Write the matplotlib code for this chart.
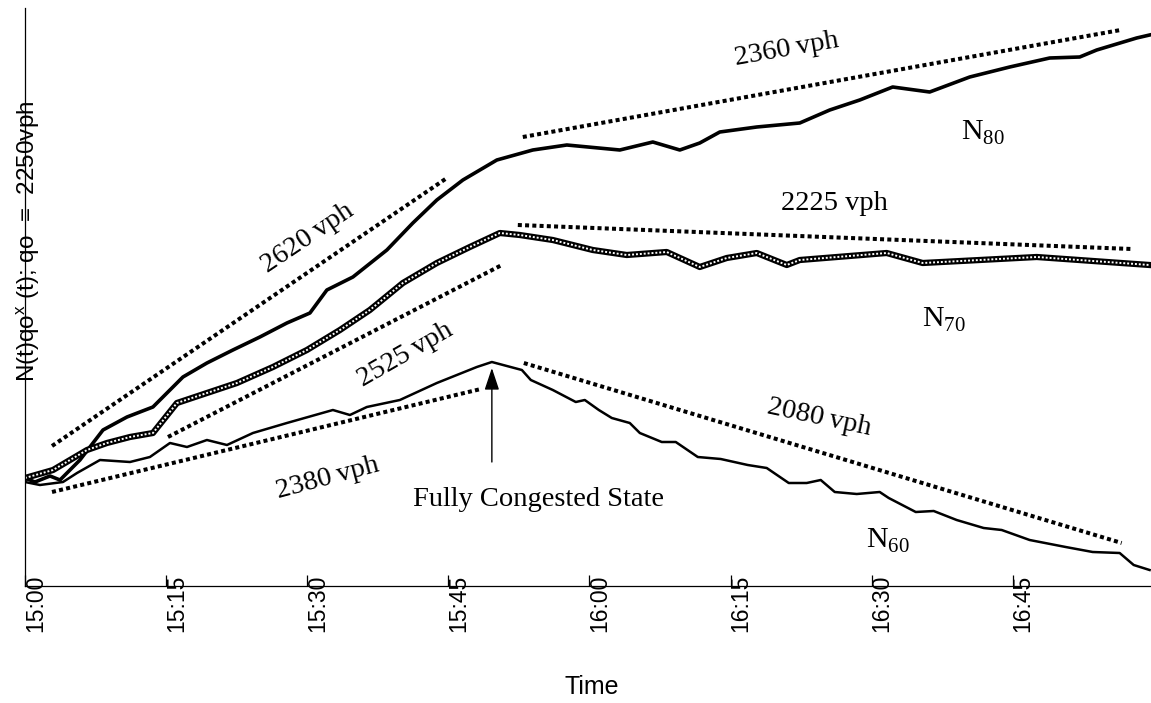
import matplotlib
matplotlib.use("Agg")
import matplotlib.pyplot as plt
from matplotlib.transforms import ScaledTranslation

# minutes after 15:00 / cumulative count N(t) - qo*t (veh)
n80_t = [0, 1.06, 2.66, 3.72, 4.78, 5.84, 8.29, 10.84, 13.60, 16.79, 19.34, 22.10, 24.97,
         27.84, 30.29, 32.09, 34.86, 38.47, 41.23, 43.78, 46.55, 50.16, 53.98, 57.60,
         63.23, 66.74, 69.61, 71.73, 73.86, 77.79, 82.36, 85.55, 88.74, 92.24, 96.17,
         100.43, 104.68, 108.93, 112.12, 113.93, 118.17, 119.55]
n80_v = [105, 101, 107, 103, 113, 123, 153, 166, 176, 206, 220, 233, 246,
         260, 270, 293, 306, 333, 360, 383, 403, 423, 433, 438,
         433, 441, 433, 440, 451, 456, 460, 473, 483, 496, 491,
         506, 516, 525, 526, 533, 545, 548]

n70_t = [0, 2.98, 6.59, 8.71, 11.16, 13.60, 16.15, 19.34, 22.53, 26.36, 29.97, 33.48,
         36.66, 40.17, 43.78, 47.29, 50.48, 52.60, 56.11, 60.36, 63.97, 68.22, 71.73,
         74.60, 77.79, 80.98, 82.36, 91.60, 95.43, 107.55, 119.55]
n70_v = [105, 113, 133, 140, 146, 150, 180, 190, 200, 216, 233, 253,
         273, 300, 320, 336, 350, 348, 343, 333, 328, 331, 316,
         325, 330, 318, 323, 330, 320, 326, 318]

n60_t = [0, 1.59, 4.04, 5.53, 7.97, 11.16, 13.28, 15.41, 17.22, 19.34, 21.47, 24.23,
         27.84, 32.73, 34.54, 36.34, 39.85, 43.78, 48.03, 49.63, 52.82, 53.77, 56.11,
         58.55, 59.51, 61.00, 62.38, 64.29, 65.36, 67.69, 69.18, 71.52, 73.96, 76.83,
         78.85, 81.19, 83.10, 84.59, 86.08, 88.42, 90.86, 91.82, 94.69, 96.60, 99.04,
         101.91, 103.83, 106.80, 110.63, 113.50, 116.37, 117.86, 119.55]
n60_v = [101, 98, 101, 110, 123, 121, 126, 140, 136, 143, 138, 150,
         160, 173, 168, 176, 183, 200, 216, 221, 213, 203, 193,
         181, 183, 173, 165, 160, 150, 141, 141, 126, 124, 118,
         115, 100, 100, 103, 91, 89, 91, 85, 71, 72, 63,
         55, 53, 43, 36, 31, 30, 18, 13]

# fitted rate lines: (t0, t1), (v0, v1)
rate_lines = [
    ((2.87, 44.85), (137, 405)),    # 2620
    ((15.20, 50.69), (146, 318)),   # 2525
    ((2.87, 48.46), (91, 194)),     # 2380
    ((52.92, 116.47), (446, 553)),  # 2360
    ((52.39, 117.64), (358, 334)),  # 2225
    ((53.03, 116.58), (220, 40)),   # 2080
]
# label placement: text, x, y, rotation
rate_labels = [
    ("2620\u2009vph", 30.1, 345, 34),
    ("2525\u2009vph", 40.4, 228, 30),
    ("2380\u2009vph", 32.2, 105, 15),
    ("2360\u2009vph", 81.0, 533, 10),
    ("2225 vph", 86.0, 380, 0),
    ("2080\u2009vph", 84.4, 165, -12),
]
curve_labels = [("N$_{\\mathrm{80}}$", 101.8, 450),
                ("N$_{\\mathrm{70}}$", 97.7, 263),
                ("N$_{\\mathrm{60}}$", 91.7, 42)]

tick_min = [0, 15, 30, 45, 60, 75, 90, 105]
tick_lab = ["15:00", "15:15", "15:30", "15:45", "16:00", "16:15", "16:30", "16:45"]

plt.rcParams['mathtext.fontset'] = 'custom'
plt.rcParams['mathtext.rm'] = 'Liberation Serif'
plt.rcParams['mathtext.sf'] = 'Liberation Sans'
serif = ['Liberation Serif', 'DejaVu Serif']
sans = ['Liberation Sans', 'DejaVu Sans']

fig = plt.figure(figsize=(11.51, 7.03), dpi=100)
ax = fig.add_axes([25 / 1151, 117.5 / 703, 1126 / 1151, 577.5 / 703])

ax.plot(n80_t, n80_v, color='black', lw=2.6, solid_joinstyle='round')
ax.plot(n70_t, n70_v, color='black', lw=4.5, solid_joinstyle='round')
ax.plot(n70_t, n70_v, color='white', lw=1.4, linestyle=(0, (1, 1)))
ax.plot(n60_t, n60_v, color='black', lw=1.8, solid_joinstyle='round')

for (t0, t1), (v0, v1) in rate_lines:
    ax.plot([t0, t1], [v0, v1], color='black', lw=2.9,
            linestyle=(0, (1, 0.8)), dash_capstyle='butt')

for txt, x, y, rot in rate_labels:
    ax.text(x, y, txt, rotation=rot, ha='center', va='center',
            fontsize=20.5, family=serif, rotation_mode='anchor')

for txt, x, y in curve_labels:
    ax.text(x, y, txt, ha='center', va='center', fontsize=21.5, family=serif)

ax.annotate("", xy=(49.63, 215), xytext=(49.63, 121),
            arrowprops=dict(arrowstyle='-|>,head_length=0.9,head_width=0.3',
                            color='black', lw=1, mutation_scale=15, shrinkA=0, shrinkB=0))
ax.text(54.6, 84, "Fully Congested State", ha='center', va='center',
        fontsize=20.5, family=serif)

ax.set_xlim(0, 119.7)
ax.set_ylim(-2.5, 575)
ax.set_xticks(tick_min)
ax.set_xticklabels(tick_lab, rotation=90, fontsize=16.5, family=sans)
ax.set_yticks([])
ax.tick_params(axis='x', direction='in', length=8, width=0.9, pad=-8)
offset = ScaledTranslation(10.5 / 100, 0, fig.dpi_scale_trans)
for lbl in ax.get_xticklabels():
    lbl.set_transform(lbl.get_transform() + offset)

for s in ['top', 'right']:
    ax.spines[s].set_visible(False)
for s in ['left', 'bottom']:
    ax.spines[s].set_linewidth(0.9)

fig.text(592 / 1151, 1 - 687 / 703, "Time", ha='center', va='center',
         fontsize=18, family=sans)
fig.text(28 / 1151, 1 - 241 / 703, "N(t)qo$^{\\mathsf{x}}$ (t); qo  =  2250vph",
         rotation=90, ha='center', va='center', fontsize=17.5, family=sans)

fig.savefig("out.png", dpi=100)
